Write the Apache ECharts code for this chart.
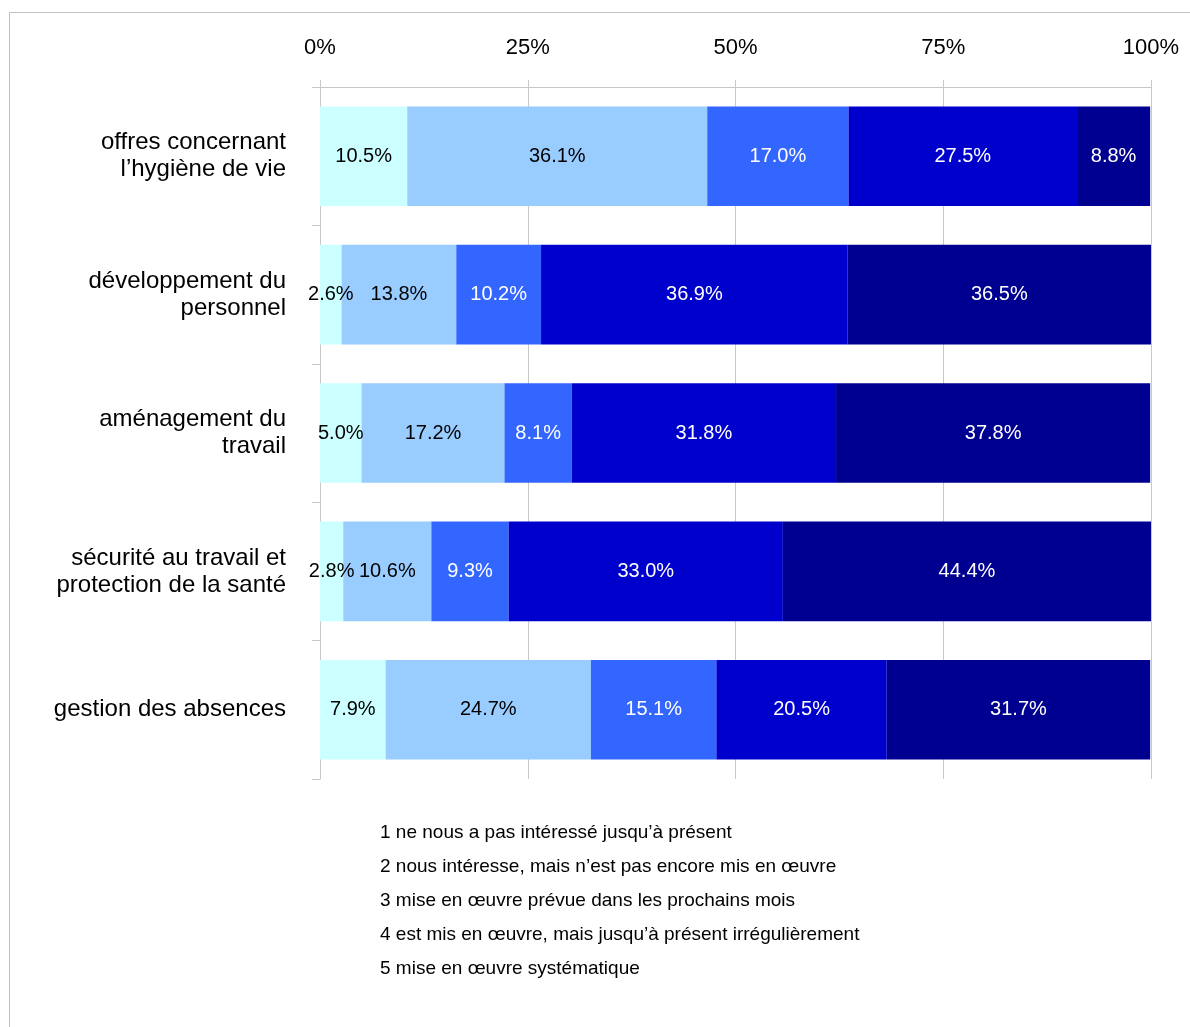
<!DOCTYPE html>
<html>
<head>
<meta charset="utf-8">
<script src="https://cdn.jsdelivr.net/npm/echarts@6/dist/echarts.min.js"></script>
<style>
html,body{margin:0;padding:0;background:#fff;}
#chart{width:1190px;height:1027px;}
</style>
</head>
<body>
<div id="chart"></div>
<script>
const categories = [
  "offres concernant\nl\u2019hygi\u00e8ne de vie",
  "d\u00e9veloppement du\npersonnel",
  "am\u00e9nagement du\ntravail",
  "s\u00e9curit\u00e9 au travail et\nprotection de la sant\u00e9",
  "gestion des absences"
];
const seriesNames = [
  "1 ne nous a pas int\u00e9ress\u00e9 jusqu\u2019\u00e0 pr\u00e9sent",
  "2 nous int\u00e9resse, mais n\u2019est pas encore mis en \u0153uvre",
  "3 mise en \u0153uvre pr\u00e9vue dans les prochains mois",
  "4 est mis en \u0153uvre, mais jusqu\u2019\u00e0 pr\u00e9sent irr\u00e9guli\u00e8rement",
  "5 mise en \u0153uvre syst\u00e9matique"
];
const s1 = [10.5, 2.6, 5.0, 2.8, 7.9];
const s2 = [36.1, 13.8, 17.2, 10.6, 24.7];
const s3 = [17.0, 10.2, 8.1, 9.3, 15.1];
const s4 = [27.5, 36.9, 31.8, 33.0, 20.5];
const s5 = [8.8, 36.5, 37.8, 44.4, 31.7];
const xTicks = [0, 25, 50, 75, 100];

const seriesData = [s1, s2, s3, s4, s5];
const colors = ["#CCFFFF", "#99CCFF", "#3366FF", "#0000CC", "#000090"];
const labelColors = ["#000000", "#000000", "#ffffff", "#ffffff", "#ffffff"];
const FONT = "Liberation Sans, Arial, Helvetica, sans-serif";

const chart = echarts.init(document.getElementById('chart'), null, {renderer: 'canvas'});
chart.setOption({
  backgroundColor: '#ffffff',
  animation: false,
  textStyle: {fontFamily: FONT},
  graphic: [{
    type: 'rect',
    shape: {x: 9.5, y: 12.5, width: 1300, height: 1200},
    style: {fill: 'none', stroke: '#c0c0c0', lineWidth: 1},
    silent: true, z: -10
  }],
  grid: {left: 320, right: 39, top: 87, bottom: 248, containLabel: false},
  xAxis: {
    type: 'value',
    position: 'top',
    min: 0, max: 100, interval: 25,
    axisLine: {show: true, lineStyle: {color: '#c8c8c8', width: 1}},
    axisTick: {show: true, length: 7, lineStyle: {color: '#c8c8c8'}},
    splitLine: {show: true, lineStyle: {color: '#c8c8c8', width: 1}},
    axisLabel: {
      margin: 28, fontSize: 22, color: '#000', fontFamily: FONT,
      formatter: v => (xTicks.indexOf(v) >= 0 ? v + '%' : '')
    }
  },
  yAxis: {
    type: 'category',
    inverse: true,
    data: categories,
    axisLine: {show: true, lineStyle: {color: '#c8c8c8', width: 1}},
    axisTick: {show: true, length: 8, lineStyle: {color: '#c8c8c8'}},
    axisLabel: {margin: 34, fontSize: 24, lineHeight: 27, padding: [3, 0, 0, 0], color: '#000', fontFamily: FONT, align: 'right'},
    splitLine: {show: false}
  },
  legend: {
    orient: 'vertical',
    left: 370, top: 818,
    icon: 'none',
    itemWidth: 0, itemHeight: 20, itemGap: 14,
    selectedMode: false,
    data: seriesNames,
    textStyle: {fontSize: 19, lineHeight: 20, color: '#000', fontFamily: FONT}
  },
  series: seriesData.map((d, i) => ({
    name: seriesNames[i],
    type: 'bar',
    stack: 'total',
    data: d,
    barCategoryGap: '28%',
    itemStyle: {color: colors[i]},
    label: {
      show: true, position: 'inside',
      color: labelColors[i], fontSize: 20, fontFamily: FONT,
      textBorderWidth: 0,
      formatter: p => p.value.toFixed(1) + '%'
    }
  }))
});
</script>
</body>
</html>
